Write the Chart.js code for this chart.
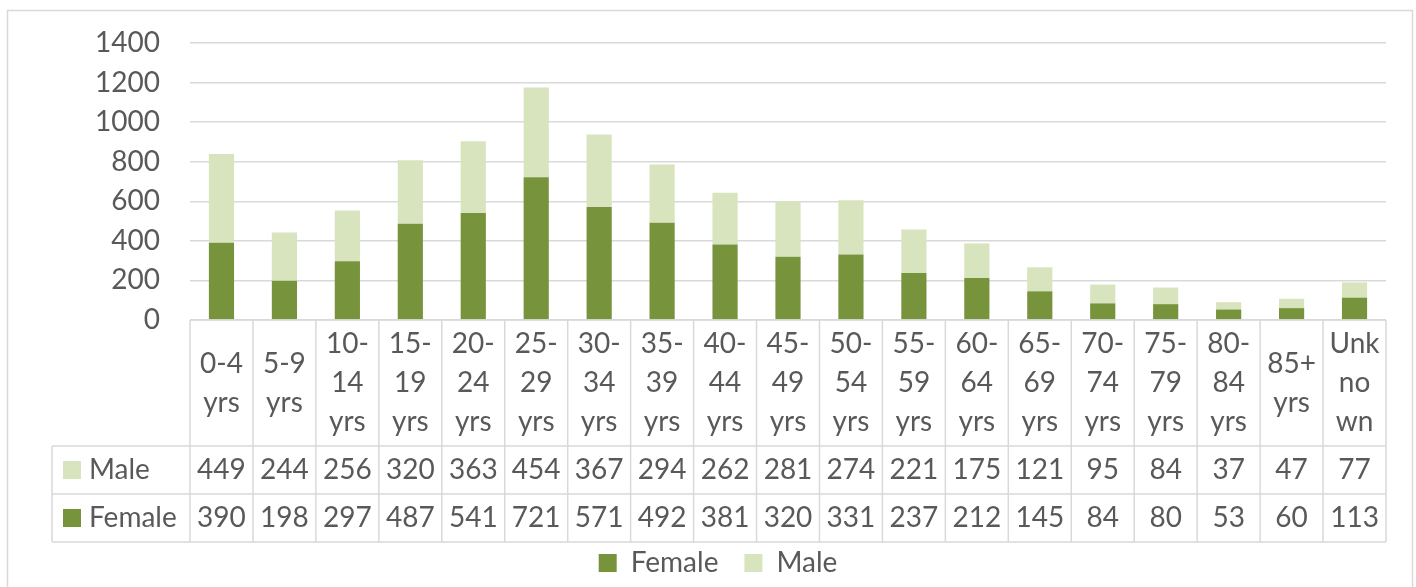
<!DOCTYPE html>
<html>
<head>
<meta charset="utf-8">
<script src="https://cdn.jsdelivr.net/npm/chart.js@4.4.1/dist/chart.umd.min.js"></script>
<style>
  html, body { margin:0; padding:0; background:#fff; }
  #wrap { width:1416px; height:587px; position:relative; }
</style>
</head>
<body>
<div id="wrap"><canvas id="ageChart"></canvas></div>
<script>
// data
const categories = [
  ['0-4','yrs'], ['5-9','yrs'], ['10-','14','yrs'], ['15-','19','yrs'], ['20-','24','yrs'],
  ['25-','29','yrs'], ['30-','34','yrs'], ['35-','39','yrs'], ['40-','44','yrs'], ['45-','49','yrs'],
  ['50-','54','yrs'], ['55-','59','yrs'], ['60-','64','yrs'], ['65-','69','yrs'], ['70-','74','yrs'],
  ['75-','79','yrs'], ['80-','84','yrs'], ['85+','yrs'], ['Unk','no','wn']
];
const female = [390,198,297,487,541,721,571,492,381,320,331,237,212,145,84,80,53,60,113];
const male   = [449,244,256,320,363,454,367,294,262,281,274,221,175,121,95,84,37,47,77];
const yMax = 1400;
const yStep = 200;

const FONT = 'Lato, "Open Sans", sans-serif';
const FSIZE = 28;
const TEXT = '#595959';
const LINE = '#d9d9d9';
const FEMALE_C = '#77933c';
const MALE_C = '#d7e4bd';

// outer frame + white background
const framePlugin = {
  id:'frame',
  beforeDraw(chart){
    const c = chart.ctx;
    c.save();
    c.fillStyle = '#fff';
    c.fillRect(0,0,chart.width,chart.height);
    c.strokeStyle = LINE;
    c.lineWidth = 1.5;
    c.strokeRect(7.5,10.5,1405,600);
    c.restore();
  }
};

// data table under the bars (Excel style)
const tablePlugin = {
  id:'dataTable',
  afterDraw(chart){
    const c = chart.ctx, area = chart.chartArea, x = chart.scales.x;
    const n = categories.length;
    const colW = (area.right - area.left) / n;
    const top = area.bottom, catBottom = top + 126, rowH = 48;
    const labelLeft = 52;
    const rows = [{name:'Male', color:MALE_C, data:male}, {name:'Female', color:FEMALE_C, data:female}];
    c.save();
    c.strokeStyle = LINE;
    c.lineWidth = 1.5;
    c.beginPath();
    c.moveTo(area.left, top); c.lineTo(area.right, top);
    for (let r = 0; r <= rows.length; r++) {
      const y = catBottom + r*rowH;
      c.moveTo(labelLeft, y); c.lineTo(area.right, y);
    }
    c.moveTo(labelLeft, catBottom); c.lineTo(labelLeft, catBottom + rows.length*rowH);
    for (let i = 0; i <= n; i++) {
      const xx = area.left + i*colW;
      c.moveTo(xx, top); c.lineTo(xx, catBottom + rows.length*rowH);
    }
    c.stroke();

    c.fillStyle = TEXT;
    c.font = FSIZE + 'px ' + FONT;
    c.textAlign = 'center';
    c.textBaseline = 'middle';
    const lh = 39;
    categories.forEach((lines, i) => {
      const cx = x.getPixelForValue(i);
      const mid = (top + catBottom)/2;
      lines.forEach((t, k) => {
        c.fillText(t, cx, mid + (k - (lines.length-1)/2)*lh);
      });
    });
    rows.forEach((row, r) => {
      const cy = catBottom + r*rowH + rowH/2;
      row.data.forEach((v, i) => c.fillText(String(v), x.getPixelForValue(i), cy));
      c.fillStyle = row.color;
      c.fillRect(63, cy - 9, 18, 18);
      c.fillStyle = TEXT;
      c.textAlign = 'left';
      c.fillText(row.name, 89, cy);
      c.textAlign = 'center';
    });
    c.restore();
  }
};

new Chart(document.getElementById('ageChart'), {
  type:'bar',
  data:{
    labels: categories.map(l => l.join(' ')),
    datasets:[
      {label:'Female', data:female, backgroundColor:FEMALE_C, categoryPercentage:1, barPercentage:0.4},
      {label:'Male', data:male, backgroundColor:MALE_C, categoryPercentage:1, barPercentage:0.4}
    ]
  },
  options:{
    responsive:true,
    maintainAspectRatio:false,
    animation:false,
    layout:{padding:{left:50, right:30, top:43, bottom:0}},
    scales:{
      x:{
        stacked:true,
        grid:{display:false},
        border:{display:false},
        ticks:{display:false},
        afterFit(scale){ scale.height = 203; }
      },
      y:{
        stacked:true,
        min:0, max:yMax,
        ticks:{stepSize:yStep, color:TEXT, font:{family:FONT, size:FSIZE}, padding:30, callback:v => String(v)},
        grid:{color:LINE, lineWidth:1.5, drawTicks:false},
        border:{display:false},
        afterFit(scale){ scale.width = 140; scale.paddingTop = 0; scale.paddingBottom = 0; }
      }
    },
    plugins:{
      legend:{
        position:'bottom',
        labels:{color:TEXT, font:{family:FONT, size:FSIZE}, boxWidth:18, boxHeight:18, padding:26}
      },
      tooltip:{enabled:false}
    }
  },
  plugins:[framePlugin, tablePlugin]
});
</script>
</body>
</html>
